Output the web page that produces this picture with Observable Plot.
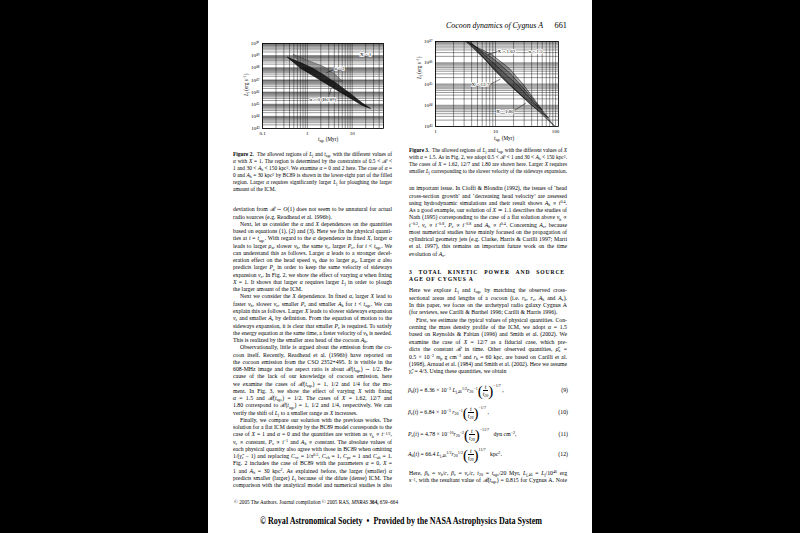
<!DOCTYPE html>
<html><head><meta charset="utf-8">
<script src="https://cdn.jsdelivr.net/npm/d3@7"></script>
<script src="https://cdn.jsdelivr.net/npm/@observablehq/plot@0.6"></script>
<style>
html,body{margin:0;padding:0;background:#000;}
#root{position:relative;width:800px;height:533px;overflow:hidden;background:#000;}
#page{position:absolute;left:208px;top:0;width:384px;height:533px;background:#fff;}
.tx{position:absolute;font-family:"Liberation Serif","DejaVu Serif",serif;color:#000;white-space:nowrap;}
sub,sup{font-size:70%;line-height:0;position:relative;vertical-align:baseline;}
sup{top:-0.45em;} sub{top:0.28em;}
sup.hi{top:-1.2em;}
.frac{display:inline-flex;flex-direction:column;vertical-align:middle;text-align:center;line-height:6.2px;font-style:italic;}
.frac .num{border-bottom:0.5px solid #000;padding:0 1px;}
.par{font-size:15px;vertical-align:middle;line-height:0;font-weight:300;}
</style></head>
<body><div id="root"><div id="page"></div></div>
<script>
// ---------------- data ----------------
// Figure 2 (X = 1): t_age ticks (Myr) and L_j tick exponents
const fig2TimeTicks = [0.1, 1, 10];
const fig2PowerExp = [43, 44, 45, 46, 47, 48, 49, 50];
// alpha = 0 (BC89) allowed region outline: t_age (Myr), log10 L_j (erg/s)
const fig2Alpha0T = [0.36, 0.68, 1.34, 2.22, 4.37, 8.6, 16.8, 25.8, 16.8, 8.6, 4.37, 2.22, 1.34, 0.68];
const fig2Alpha0Exp = [48.87, 48.45, 47.95, 47.45, 46.75, 45.95, 45.1, 44.65, 44.9, 45.55, 46.2, 46.85, 47.35, 48.0];
// alpha = 2 allowed region outline
const fig2Alpha2T = [0.49, 1.13, 2.22, 4.02, 6.12, 4.37, 2.22, 1.34, 0.68];
const fig2Alpha2Exp = [49.09, 48.54, 48.13, 47.5, 46.9, 46.85, 47.45, 47.95, 48.45];
// labels and leader lines
const fig2LabelText = ["X = 1", "α = 2", "α = 0 (BC89)"];
const fig2LabelT = [20, 5.18, 2.22];
const fig2LabelExp = [49.09, 47.94, 45.39];
const fig2LeaderT1 = [2.64, 3.4];
const fig2LeaderExp1 = [47.59, 46.35];
const fig2LeaderT2 = [4.02, 3.13];
const fig2LeaderExp2 = [47.86, 45.8];

// Figure 3 (alpha = 1.5)
const fig3TimeTicks = [1, 10, 100];
const fig3PowerExp = [43, 44, 45, 46, 47];
const fig3X162T = [3.21, 8.79, 16.7, 27.8, 60.0, 27.8, 14.7, 6.81];
const fig3X162Exp = [47.0, 46.37, 45.75, 45.04, 43.78, 44.41, 45.12, 46.14];
const fig3X127T = [3.41, 9.38, 17.8, 33.7, 77.4, 36.0, 17.8, 8.26];
const fig3X127Exp = [47.0, 46.17, 45.48, 44.60, 43.39, 44.10, 44.96, 45.90];
const fig3X180T = [3.73, 10.7, 23.0, 43.6, 100, 49.4, 23.0, 10.0];
const fig3X180Exp = [47.0, 45.82, 44.96, 44.13, 42.97, 43.78, 44.65, 45.59];
const fig3LabelText = ["α = 1.5", "X = 1.62", "X = 12/7", "X = 1.80"];
const fig3LabelT = [46.4, 15.2, 5.62, 14.4];
const fig3LabelExp = [46.55, 46.53, 44.96, 43.71];
const fig3LeaderT1 = [7.36, 8.25, 20.5];
const fig3LeaderExp1 = [46.37, 44.99, 43.75];
const fig3LeaderT2 = [10.8, 12.1, 32];
const fig3LeaderExp2 = [46.53, 45.23, 44.1];

// ---------------- helpers ----------------
const root = document.getElementById("root");
const SUP = {"-":"⁻","0":"⁰","1":"¹","2":"²","3":"³","4":"⁴","5":"⁵","6":"⁶","7":"⁷","8":"⁸","9":"⁹"};
const powFmt = d => "10" + String(Math.round(Math.log10(d))).split("").map(c => SUP[c]).join("");
const poly = (T, E) => { const r = T.map((t, i) => ({t, L: 10 ** E[i]})); r.push(r[0]); return r; };
const pts = (T, E, txt) => T.map((t, i) => ({t, L: 10 ** E[i], s: txt ? txt[i] : null}));
const links = (T1, E1, T2, E2) => T1.map((t, i) => ({t1: t, L1: 10 ** E1[i], t2: T2[i], L2: 10 ** E2[i]}));

function place(html, x, yc, o = {}) {
  const size = o.size || 5.8, lh = o.lh || 7.26;
  const d = document.createElement("div");
  d.className = "tx";
  if (o.right != null) d.style.right = o.right + "px"; else d.style.left = x + "px";
  d.style.top = (yc - lh / 2) + "px";
  d.style.fontSize = size + "px";
  d.style.lineHeight = lh + "px";
  if (o.style) Object.assign(d.style, o.style);
  const s = document.createElement("span");
  s.innerHTML = html;
  s.style.display = "inline-block";
  s.style.whiteSpace = "nowrap";
  s.style.transformOrigin = o.right != null ? "100% 50%" : "0 50%";
  d.appendChild(s);
  root.appendChild(d);
  if (o.width) {
    let w = s.getBoundingClientRect().width;
    if (o.justify && w < o.width) {
      const n = (s.textContent.match(/ /g) || []).length;
      if (n) { s.style.wordSpacing = ((o.width - w) / n) + "px"; w = s.getBoundingClientRect().width; }
    }
    if (w > o.width + 0.3 || (o.justify && Math.abs(w - o.width) > 0.5)) s.style.transform = `scaleX(${o.width / w})`;
  }
  return d;
}
function column(lines, x, width, y0, step, size) {
  lines.forEach((ln, i) => {
    const ind = ln.ind ? 7 : 0;
    place(ln.h, x + ind, y0 + i * step, {width: width - ind, justify: !ln.last, size});
  });
}
const I = s => `<i>${s}</i>`;
const sb = (a, b) => `<i>${a}</i><sub>${b}</sub>`;
const R = "<i>ℛ</i>";

// ---------------- header ----------------
place("<i>Cocoon dynamics of Cygnus A</i>", 446, 26, {size: 8.4, lh: 10, width: 97});
place("661", 0, 26, {size: 8.4, lh: 10, right: 233});

// ---------------- charts ----------------
const gridStyle = {stroke: "#000", strokeOpacity: 0.75, strokeWidth: 0.55};
const chart2 = Plot.plot({
  width: 153, height: 109, marginLeft: 28, marginRight: 4, marginTop: 6, marginBottom: 18,
  style: {fontFamily: "Liberation Serif", fontSize: "5px", background: "#fff", color: "#000", overflow: "visible"},
  x: {type: "log", domain: [0.1, 50]},
  y: {type: "log", domain: [1e43, 1e50]},
  marks: [
    Plot.gridX({ticks: 30, ...gridStyle}),
    Plot.gridY({ticks: 60, ...gridStyle}),
    Plot.line(poly(fig2Alpha2T, fig2Alpha2Exp), {x: "t", y: "L", fill: "#555", fillOpacity: 0.55, stroke: "#333", strokeWidth: 0.5, strokeDasharray: "1,1"}),
    Plot.line(poly(fig2Alpha0T, fig2Alpha0Exp), {x: "t", y: "L", fill: "#111", fillOpacity: 0.9, stroke: "#000", strokeWidth: 0.5}),
    Plot.link(links(fig2LeaderT1, fig2LeaderExp1, fig2LeaderT2, fig2LeaderExp2), {x1: "t1", y1: "L1", x2: "t2", y2: "L2", stroke: "#000", strokeWidth: 0.5}),
    Plot.text(pts(fig2LabelT, fig2LabelExp, fig2LabelText), {x: "t", y: "L", text: "s", fontSize: 5, fill: "#000", stroke: "#fff", strokeWidth: 1.6}),
    Plot.frame({stroke: "#000", strokeWidth: 0.8}),
    Plot.axisX(fig2TimeTicks, {tickSize: 0, tickPadding: 2.5, tickFormat: d => String(d), label: null, fontSize: 5}),
    Plot.axisY(fig2PowerExp.map(e => 10 ** e), {tickSize: 0, tickPadding: 3, tickFormat: powFmt, label: null, fontSize: 5})
  ]
});
Object.assign(chart2.style, {position: "absolute", left: "234px", top: "37px"});
root.appendChild(chart2);

const chart3 = Plot.plot({
  width: 153, height: 109, marginLeft: 26, marginRight: 4, marginTop: 6, marginBottom: 18,
  style: {fontFamily: "Liberation Serif", fontSize: "5px", background: "#fff", color: "#000", overflow: "visible"},
  x: {type: "log", domain: [1, 112]},
  y: {type: "log", domain: [1e43, 1e47]},
  marks: [
    Plot.gridX({ticks: 30, ...gridStyle}),
    Plot.gridY({ticks: 60, ...gridStyle}),
    Plot.line(poly(fig3X162T, fig3X162Exp), {x: "t", y: "L", fill: "#333", fillOpacity: 0.4, stroke: "#000", strokeWidth: 0.5, clip: true}),
    Plot.line(poly(fig3X127T, fig3X127Exp), {x: "t", y: "L", fill: "#333", fillOpacity: 0.4, stroke: "#000", strokeWidth: 0.5, clip: true}),
    Plot.line(poly(fig3X180T, fig3X180Exp), {x: "t", y: "L", fill: "#333", fillOpacity: 0.4, stroke: "#000", strokeWidth: 0.5, strokeDasharray: "1.2,0.8", clip: true}),
    Plot.link(links(fig3LeaderT1, fig3LeaderExp1, fig3LeaderT2, fig3LeaderExp2), {x1: "t1", y1: "L1", x2: "t2", y2: "L2", stroke: "#000", strokeWidth: 0.5}),
    Plot.text(pts(fig3LabelT, fig3LabelExp, fig3LabelText), {x: "t", y: "L", text: "s", fontSize: 5, fill: "#000", stroke: "#fff", strokeWidth: 1.6}),
    Plot.frame({stroke: "#000", strokeWidth: 0.8}),
    Plot.axisX(fig3TimeTicks, {tickSize: 0, tickPadding: 2.5, tickFormat: d => String(d), label: null, fontSize: 5}),
    Plot.axisY(fig3PowerExp.map(e => 10 ** e), {tickSize: 0, tickPadding: 3, tickFormat: powFmt, label: null, fontSize: 5})
  ]
});
Object.assign(chart3.style, {position: "absolute", left: "409px", top: "35px"});
root.appendChild(chart3);

// axis titles
place(`${sb("t","age")} (Myr)`, 318, 139, {size: 5.2, lh: 6});
place(`${sb("t","age")} (Myr)`, 494, 138, {size: 5.2, lh: 6});
function ylab(x, yc) {
  const d = place(`${sb("L","j")} (erg s<sup>−1</sup>)`, 0, 0, {size: 5.2, lh: 6});
  const w = d.getBoundingClientRect().width;
  d.style.left = (x - 3) + "px";
  d.style.top = (yc + w / 2) + "px";
  d.style.transformOrigin = "0 0";
  d.style.transform = "rotate(-90deg)";
}
ylab(245.5, 85);
ylab(418.5, 68);

// ---------------- captions ----------------
column([
  {h: `<b>Figure 2.</b>&nbsp; The allowed regions of ${sb("L","j")} and ${sb("t","age")} with the different values of`},
  {h: `${I("α")} with ${I("X")} = 1. The region is determined by the constraints of 0.5 &lt; ${R} &lt;`},
  {h: `1 and 30 &lt; ${sb("A","h")} &lt; 150 kpc<sup>2</sup>. We examine ${I("α")} = 0 and 2 here. The case of ${I("α")} =`},
  {h: `0 and ${sb("A","h")} = 30 kpc<sup>2</sup> by BC89 is shown in the lower-right part of the filled`},
  {h: `region. Larger ${I("α")} requires significantly larger ${sb("L","j")} for ploughing the larger`},
  {h: `amount of the ICM.`, last: 1}
], 233, 159, 155, 7, 5.4);
column([
  {h: `<b>Figure 3.</b>&nbsp; The allowed regions of ${sb("L","j")} and ${sb("t","age")} with the different values of ${I("X")}`},
  {h: `with ${I("α")} = 1.5. As in Fig. 2, we adopt 0.5 &lt; ${R} &lt; 1 and 30 &lt; ${sb("A","h")} &lt; 150 kpc<sup>2</sup>.`},
  {h: `The cases of ${I("X")} = 1.62, 12/7 and 1.80 are shown here. Larger ${I("X")} requires`},
  {h: `smaller ${sb("L","j")} corresponding to the slower velocity of the sideways expansion.`}
], 409, 158, 151, 7, 5.4);

// ---------------- left column ----------------
const ta = sb("t","age");
column([
  {h: `deviation from ${R} ∼ ${I("O")}(1) does not seem to be unnatural for actual`},
  {h: `radio sources (e.g. Readhead et al. 1996b).`, last: 1},
  {h: `Next, let us consider the ${I("α")} and ${I("X")} dependences on the quantities`, ind: 1},
  {h: `based on equations (1), (2) and (3). Here we fix the physical quanti-`},
  {h: `ties at ${I("t")} = ${ta}. With regard to the ${I("α")} dependence in fixed ${I("X")}, larger ${I("α")}`},
  {h: `leads to larger ${sb("ρ","a")}, slower ${sb("v","h")}, the same ${sb("v","c")}, larger ${sb("P","c")}, for ${I("t")} &lt; ${ta}. We`},
  {h: `can understand this as follows. Larger ${I("α")} leads to a stronger decel-`},
  {h: `eration effect on the head speed ${sb("v","h")} due to larger ${sb("ρ","a")}. Larger ${I("α")} also`},
  {h: `predicts larger ${sb("P","c")} in order to keep the same velocity of sideways`},
  {h: `expansion ${sb("v","c")}. In Fig. 2, we show the effect of varying ${I("α")} when fixing`},
  {h: `${I("X")} = 1. It shows that larger ${I("α")} requires larger ${sb("L","j")} in order to plough`},
  {h: `the larger amount of the ICM.`, last: 1},
  {h: `Next we consider the ${I("X")} dependence. In fixed ${I("α")}, larger ${I("X")} lead to`, ind: 1},
  {h: `faster ${sb("v","h")}, slower ${sb("v","c")}, smaller ${sb("P","c")} and smaller ${sb("A","h")} for ${I("t")} &lt; ${ta}. We can`},
  {h: `explain this as follows. Larger ${I("X")} leads to slower sideways expansion`},
  {h: `${sb("v","c")} and smaller ${sb("A","c")} by definition. From the equation of motion to the`},
  {h: `sideways expansion, it is clear that smaller ${sb("P","c")} is required. To satisfy`},
  {h: `the energy equation at the same time, a faster velocity of ${sb("v","h")} is needed.`},
  {h: `This is realized by the smaller area head of the cocoon ${sb("A","h")}.`, last: 1},
  {h: `Observationally, little is argued about the emission from the co-`, ind: 1},
  {h: `coon itself. Recently, Readhead et al. (1996b) have reported on`},
  {h: `the cocoon emission from the CSO 2352+495. It is visible in the`},
  {h: `608-MHz image and the aspect ratio is about ${R}(${ta}) ∼ 1/2. Be-`},
  {h: `cause of the lack of our knowledge of cocoon emission, here`},
  {h: `we examine the cases of ${R}(${ta}) = 1, 1/2 and 1/4 for the mo-`},
  {h: `ment. In Fig. 3, we show the effect of varying ${I("X")} with fixing`},
  {h: `${I("α")} = 1.5 and ${R}(${ta}) = 1/2. The cases of ${I("X")} = 1.62, 12/7 and`},
  {h: `1.80 correspond to ${R}(${ta}) = 1, 1/2 and 1/4, respectively. We can`},
  {h: `verify the shift of ${sb("L","j")} to a smaller range as ${I("X")} increases.`, last: 1},
  {h: `Finally, we compare our solution with the previous works. The`, ind: 1},
  {h: `solution for a flat ICM density by the BC89 model corresponds to the`},
  {h: `case of ${I("X")} = 1 and ${I("α")} = 0 and the quantities are written as ${sb("v","h")} ∝ ${I("t")}<sup>−1/2</sup>,`},
  {h: `${sb("v","c")} ∝ constant, ${sb("P","c")} ∝ ${I("t")}<sup>−1</sup> and ${sb("A","h")} ∝ constant. The absolute values of`},
  {h: `each physical quantity also agree with those in BC89 when omitting`},
  {h: `1/(${sb("γ̂","c")} − 1) and replacing ${sb("C","vc")} = 1/${I("π")}<sup>0.5</sup>, ${sb("C","vh")} = 1, ${sb("C","pc")} = 1 and ${sb("C","ah")} = 1.`},
  {h: `Fig. 2 includes the case of BC89 with the parameters ${I("α")} = 0, ${I("X")} =`},
  {h: `1 and ${sb("A","h")} = 30 kpc<sup>2</sup>. As explained before, the larger (smaller) ${I("α")}`},
  {h: `predicts smaller (larger) ${sb("L","j")} because of the dilute (dense) ICM. The`},
  {h: `comparison with the analytical model and numerical studies is also`}
], 233, 159, 210, 7.26, 5.8);

// ---------------- right column ----------------
column([
  {h: `an important issue. In Cioffi &amp; Blondin (1992), the issues of ‘head`},
  {h: `cross-section growth’ and ‘decreasing head velocity’ are assessed`},
  {h: `using hydrodynamic simulations and their result shows ${sb("A","h")} ∝ ${I("t")}<sup>0.4</sup>.`},
  {h: `As a good example, our solution of ${I("X")} ≃ 1.1 describes the studies of`},
  {h: `Nath (1995) corresponding to the case of a flat solution above ${sb("v","h")} ∝`},
  {h: `${I("t")}<sup>−0.2</sup>, ${sb("v","c")} ∝ ${I("t")}<sup>−0.8</sup>, ${sb("P","c")} ∝ ${I("t")}<sup>−0.8</sup> and ${sb("A","h")} ∝ ${I("t")}<sup>0.4</sup>. Concerning ${sb("A","c")}, because`},
  {h: `most numerical studies have mainly focused on the propagation of`},
  {h: `cylindrical geometry jets (e.g. Clarke, Harris &amp; Carilli 1997; Marti`},
  {h: `et al. 1997), this remains an important future work on the time`},
  {h: `evolution of ${sb("A","c")}.`, last: 1}
], 409, 158, 189, 7.26, 5.8);

place(`<b>3 TOTAL KINETIC POWER AND SOURCE</b>`, 409, 272.5, {size: 5.6, width: 156, justify: true, style: {letterSpacing: "0.9px"}});
place(`<b>AGE OF CYGNUS A</b>`, 409, 279.8, {size: 5.6, style: {letterSpacing: "0.9px"}});

column([
  {h: `Here we explore ${sb("L","j")} and ${ta} by matching the observed cross-`},
  {h: `sectional areas and lengths of a cocoon (i.e. ${sb("r","h")}, ${sb("r","c")}, ${sb("A","h")} and ${sb("A","c")}).`},
  {h: `In this paper, we focus on the archetypal radio galaxy Cygnus A`},
  {h: `(for reviews, see Carilli &amp; Barthel 1996; Carilli &amp; Harris 1996).`, last: 1},
  {h: `First, we estimate the typical values of physical quantities. Con-`, ind: 1},
  {h: `cerning the mass density profile of the ICM, we adopt ${I("α")} = 1.5`},
  {h: `based on Reynolds &amp; Fabian (1996) and Smith et al. (2002). We`},
  {h: `examine the case of ${I("X")} = 12/7 as a fiducial case, which pre-`},
  {h: `dicts the constant ${R} in time. Other observed quantities, ${sb("ρ̄","a")} =`},
  {h: `0.5 × 10<sup>−2</sup> ${sb("m","p")} g cm<sup>−3</sup> and ${sb("r","h")} = 60 kpc, are based on Carilli et al.`},
  {h: `(1998), Arnaud et al. (1984) and Smith et al. (2002). Here we assume`},
  {h: `${sb("γ̂","c")} = 4/3. Using these quantities, we obtain`, last: 1}
], 409, 158, 291, 7.35, 5.8);

const frac = '<span class="par">(</span><span class="frac"><span class="num">t</span><span>t<sub>20</sub></span></span><span class="par">)</span>';
const eqs = [
  [`${sb("β","h")}(${I("t")}) = 8.36 × 10<sup>−3</sup> ${sb("L","j,46")}<sup>1/2</sup>${sb("r","20")}<sup>−1</sup>${frac}<sup class="hi">−1/7</sup>&nbsp;,`, "(9)", 390],
  [`${sb("β","c")}(${I("t")}) = 6.84 × 10<sup>−3</sup> ${sb("r","20")}<sup>−1</sup>${frac}<sup class="hi">−1/7</sup>&nbsp;,`, "(10)", 411.7],
  [`${sb("P","c")}(${I("t")}) = 4.78 × 10<sup>−10</sup>${sb("r","20")}<sup>−2</sup>${frac}<sup class="hi">−11/7</sup>&nbsp;&nbsp;&nbsp;dyn cm<sup>−2</sup>,`, "(11)", 434],
  [`${sb("A","h")}(${I("t")}) = 66.4 ${sb("L","j,46")}<sup>1/2</sup>${sb("r","20")}<sup>1/2</sup>${frac}<sup class="hi">11/7</sup>&nbsp;&nbsp;&nbsp;kpc<sup>2</sup>.`, "(12)", 454]
];
eqs.forEach(([h, n, y]) => {
  place(h, 408, y, {size: 5.8, lh: 16});
  place(n, 0, y, {size: 5.8, lh: 16, right: 232});
});
place(`Here, ${sb("β","h")} = ${sb("v","h")}/${I("c")}, ${sb("β","c")} = ${sb("v","c")}/${I("c")}, ${sb("t","20")} = ${ta}/20 Myr, ${sb("L","j,46")} = ${sb("L","j")}/10<sup>46</sup> erg`, 409, 473.5, {width: 158, justify: true});
place(`s<sup>−1</sup>, with the resultant value of ${R}(${ta}) = 0.815 for Cygnus A. Note`, 409, 481, {width: 158, justify: true});

// ---------------- footers ----------------
place(`© 2005 The Authors. Journal compilation © 2005 RAS, <i>MNRAS</i> <b>364,</b> 659–664`, 234, 502, {size: 5.2, width: 168, lh: 6});
place(`<b>© Royal Astronomical Society &nbsp;•&nbsp; Provided by the NASA Astrophysics Data System</b>`, 260, 521, {size: 9.5, width: 282, lh: 11});
</script>
</body></html>
